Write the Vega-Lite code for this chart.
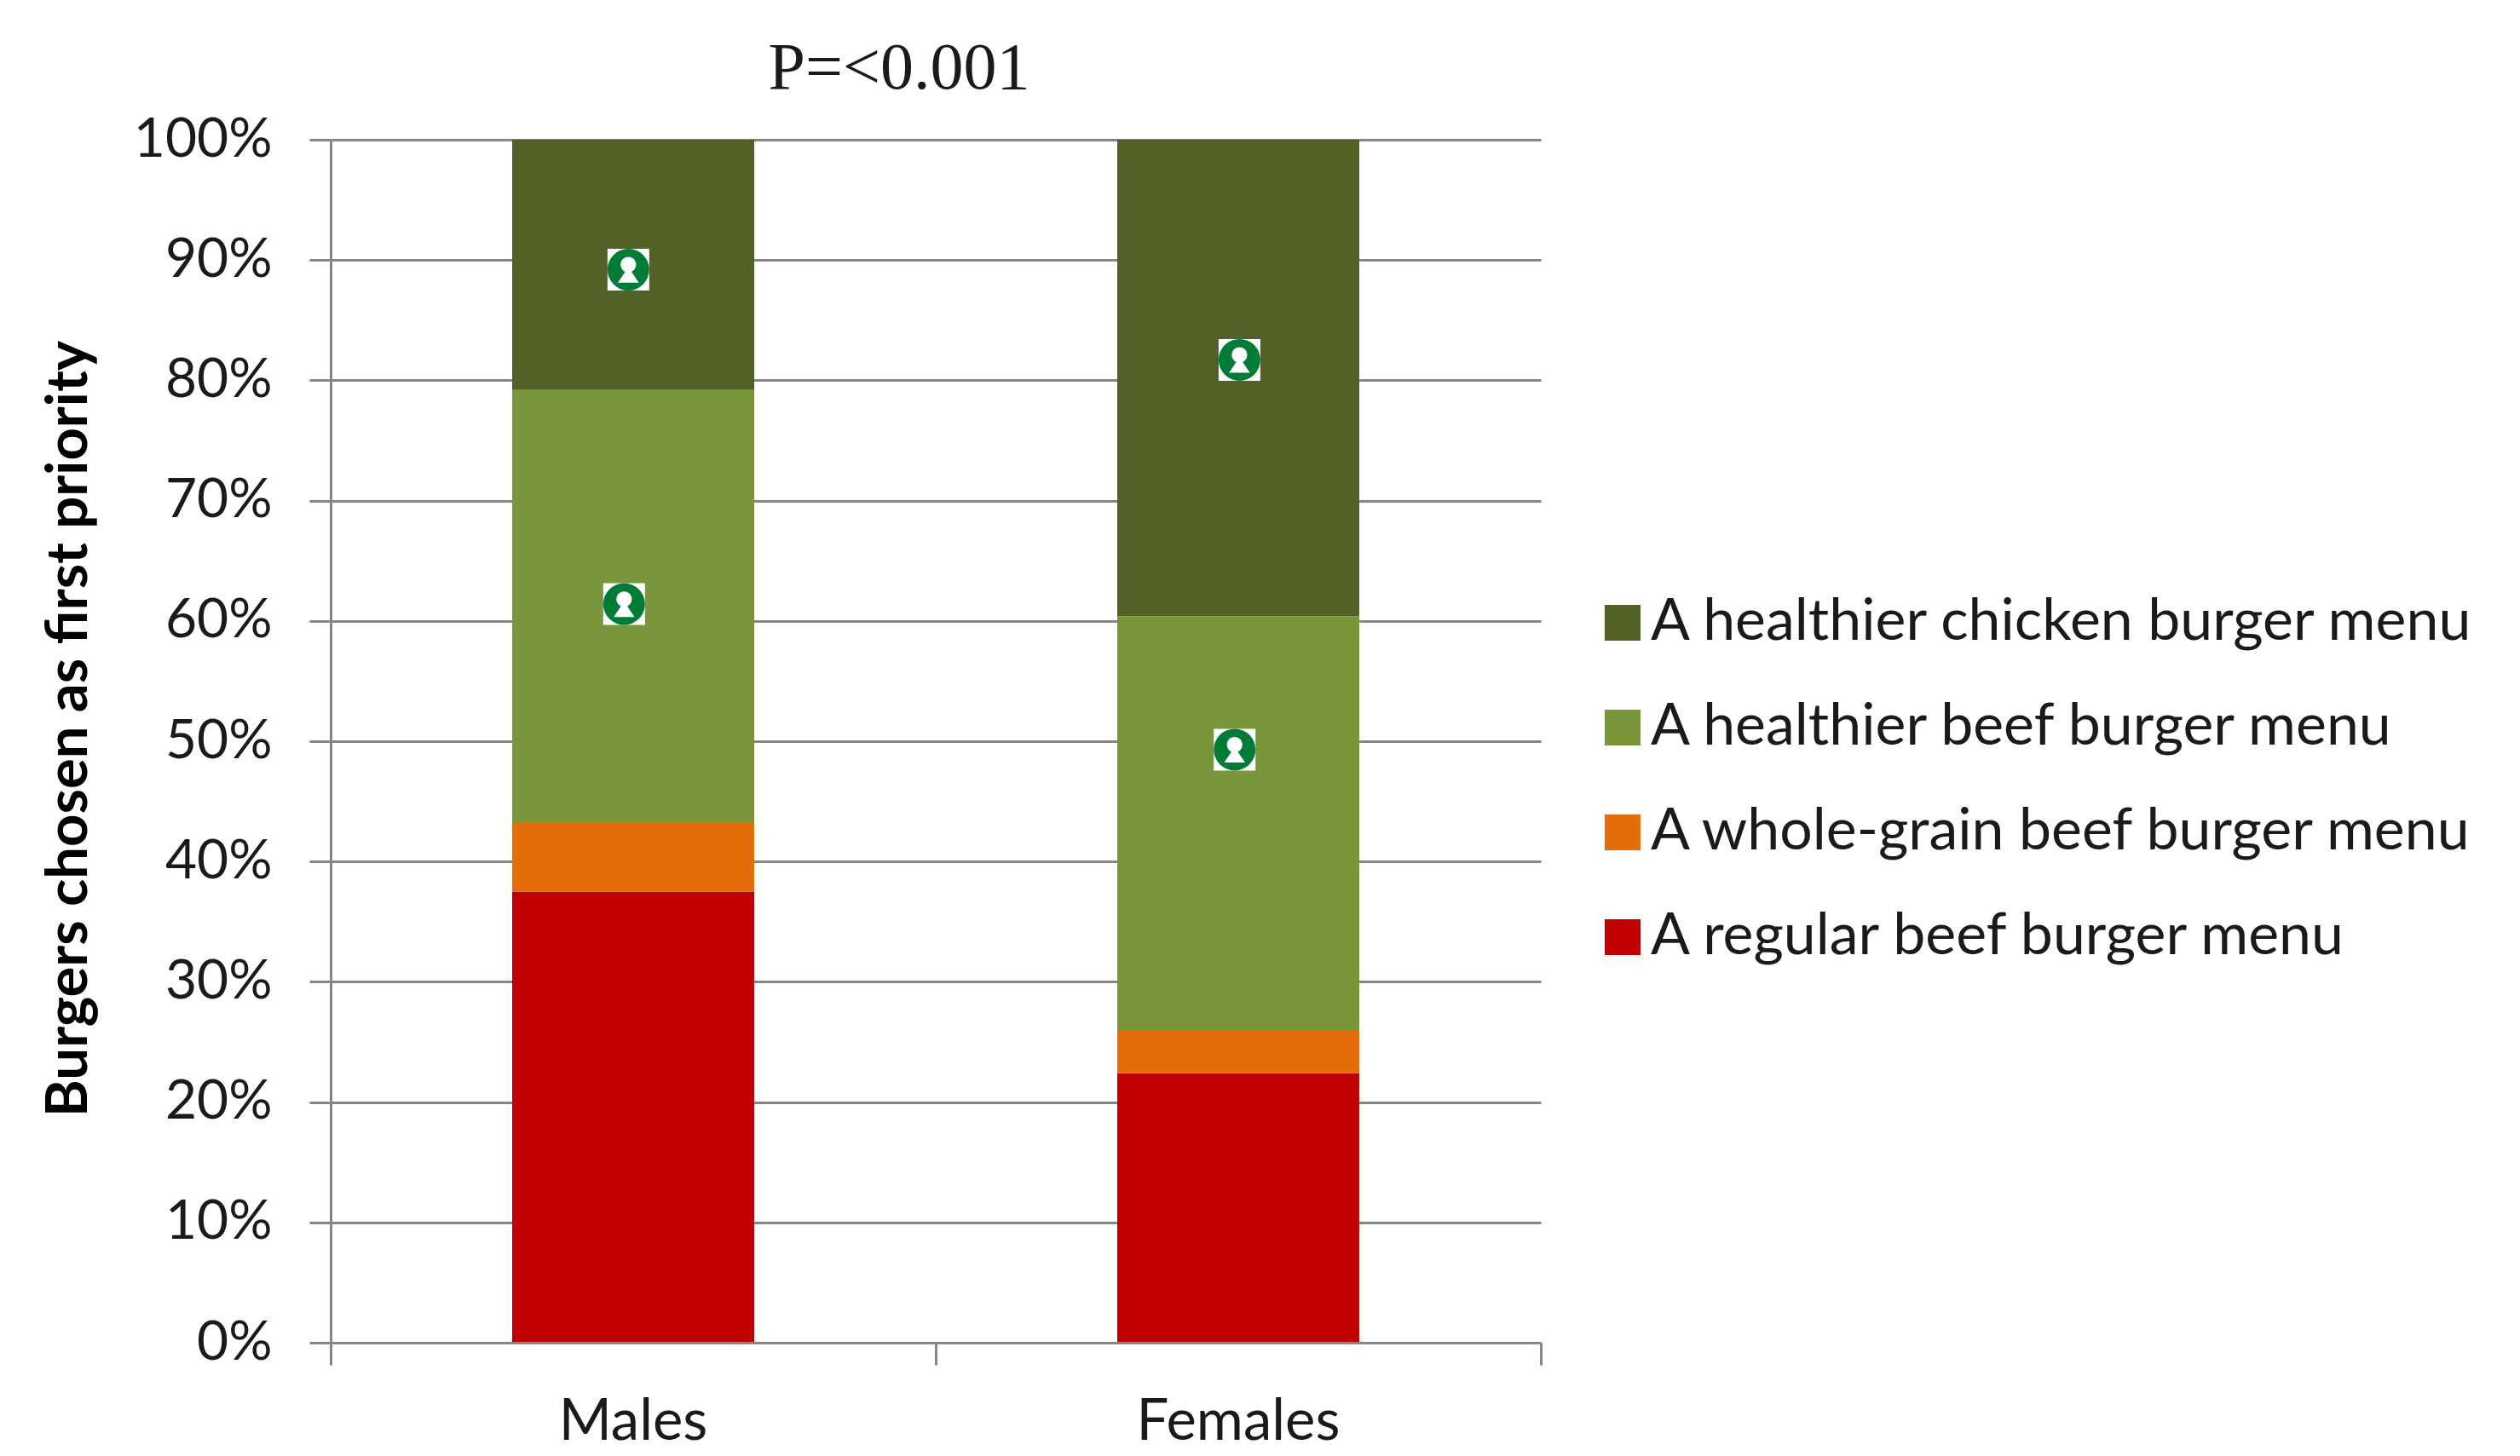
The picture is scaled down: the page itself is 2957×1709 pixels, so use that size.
{"$schema":"https://vega.github.io/schema/vega-lite/v6.json","width":1420,"height":1412,"autosize":"none","padding":{"left":388,"top":164,"right":1149,"bottom":133},"background":"white","view":{"stroke":null},
"title":{"text":"P=<0.001","font":"Liberation Serif","fontSize":78,"fontWeight":"normal","color":"#1a1a1a","anchor":"middle","dx":-43,"offset":12},
"resolve":{"scale":{"x":"independent"},"axis":{"x":"independent"}},
"layer":[
{"data":{"values":[
{"group":"Males","menu":"A regular beef burger menu","rank":1,"share":37.5},
{"group":"Males","menu":"A whole-grain beef burger menu","rank":2,"share":5.7},
{"group":"Males","menu":"A healthier beef burger menu","rank":3,"share":36.0},
{"group":"Males","menu":"A healthier chicken burger menu","rank":4,"share":20.8},
{"group":"Females","menu":"A regular beef burger menu","rank":1,"share":22.4},
{"group":"Females","menu":"A whole-grain beef burger menu","rank":2,"share":3.6},
{"group":"Females","menu":"A healthier beef burger menu","rank":3,"share":34.4},
{"group":"Females","menu":"A healthier chicken burger menu","rank":4,"share":39.6}]},
"mark":{"type":"bar","width":284},
"encoding":{
"x":{"field":"group","type":"nominal","sort":["Males","Females"],"scale":{"paddingInner":0,"paddingOuter":0},"axis":{"title":null,"labelAngle":0,"labelFont":"Lato","labelFontSize":67,"labelColor":"#1a1a1a","labelLimit":600,"ticks":false,"domain":false,"labelPadding":60,"grid":false}},
"y":{"field":"share","type":"quantitative","stack":"zero","scale":{"domain":[0,100],"nice":false},"axis":{"values":[0,10,20,30,40,50,60,70,80,90,100],"labelExpr":"datum.value + '%'","labelFont":"Lato","labelFontSize":64,"labelColor":"#1a1a1a","labelPadding":44,"tickSize":25,"tickColor":"#868686","tickWidth":3,"domainColor":"#868686","domainWidth":3,"grid":true,"gridColor":"#868686","gridWidth":3,"gridOpacity":1,"title":"Burgers chosen as first priority","titleFont":"Lato","titleFontSize":67,"titleFontWeight":"bold","titleColor":"#000000","titleAngle":-90,"titleAnchor":"middle","titleAlign":"center","titleBaseline":"bottom","titleX":-273,"titleY":691,"titleLimit":1400}},
"order":{"field":"rank","type":"quantitative"},
"color":{"field":"menu","type":"nominal","scale":{"domain":["A healthier chicken burger menu","A healthier beef burger menu","A whole-grain beef burger menu","A regular beef burger menu"],"range":["#526128","#79963a","#e46c0a","#c00000"]},
"legend":{"title":null,"orient":"none","legendX":1482,"legendY":533,"symbolType":"square","symbolSize":1764,"symbolStrokeWidth":0,"symbolOpacity":1,"labelFont":"Lato","labelFontSize":68,"labelColor":"#1a1a1a","labelOffset":-1,"rowPadding":55,"padding":0,"labelLimit":1100}}}},
{"data":{"name":"icons","values":[
{"group":"Males","pos":0.492,"level":89.2},
{"group":"Males","pos":0.485,"level":61.4},
{"group":"Females","pos":1.502,"level":81.7},
{"group":"Females","pos":1.494,"level":49.3}]},
"layer":[
{"mark":{"type":"point","shape":"square","filled":true,"size":2401,"color":"#ffffff","opacity":1,"strokeWidth":0},
"encoding":{"x":{"field":"pos","type":"quantitative","scale":{"domain":[0,2],"nice":false,"zero":false},"axis":{"orient":"bottom","values":[0,1,2],"labels":false,"title":null,"grid":false,"tickSize":26,"tickColor":"#868686","tickWidth":3,"domainColor":"#868686","domainWidth":3,"zindex":1}},"y":{"field":"level","type":"quantitative"}}},
{"mark":{"type":"point","shape":"circle","filled":true,"size":2401,"color":"#007c36","opacity":1,"strokeWidth":0},
"encoding":{"x":{"field":"pos","type":"quantitative"},"y":{"field":"level","type":"quantitative"}}},
{"mark":{"type":"point","shape":"M-0.5 0.62L-0.15 0.1A0.37 0.37 0 1 1 0.15 0.1L0.5 0.62Z","filled":true,"size":2401,"color":"#ffffff","opacity":1,"strokeWidth":0},
"encoding":{"x":{"field":"pos","type":"quantitative"},"y":{"field":"level","type":"quantitative"}}}
]}
]}
